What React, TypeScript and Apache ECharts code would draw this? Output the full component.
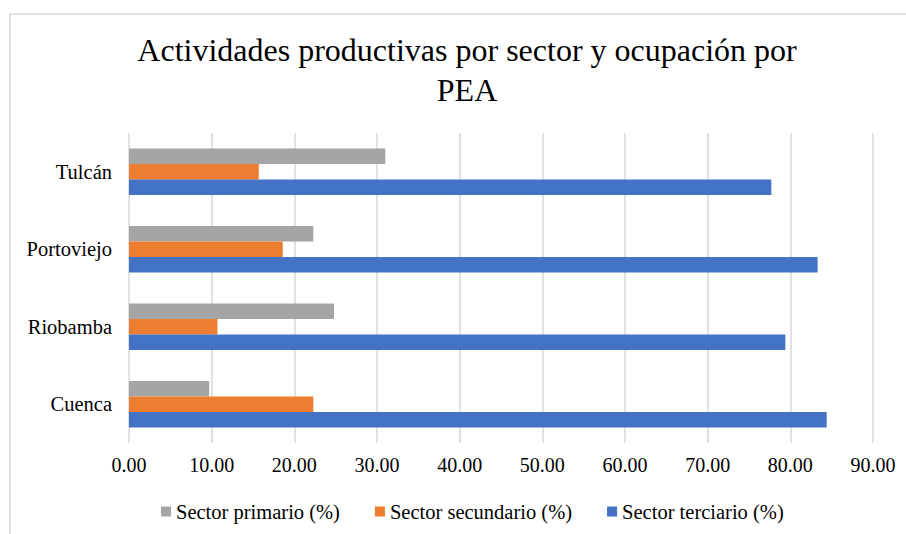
import React, { useEffect, useRef } from "react";
import * as echarts from "echarts";

const categories = ["Cuenca", "Riobamba", "Portoviejo", "Tulcán"];
const primario = [9.7, 24.8, 22.3, 31.0];
const secundario = [22.3, 10.7, 18.6, 15.7];
const terciario = [84.4, 79.4, 83.3, 77.7];
const seriesNames = ["Sector primario (%)", "Sector secundario (%)", "Sector terciario (%)"];
const titleText = "Actividades productivas por sector y ocupación por\nPEA";

const FONT = "Liberation Serif";

export default function App() {
  const ref = useRef<HTMLDivElement>(null);
  useEffect(() => {
    if (!ref.current) return;
    const chart = echarts.init(ref.current, undefined, { renderer: "svg" });
    chart.setOption({
      animation: false,
      backgroundColor: "#ffffff",
      textStyle: { fontFamily: FONT },
      graphic: [
        {
          type: "rect",
          shape: { x: 10, y: 14, width: 940, height: 560 },
          style: { fill: "none", stroke: "#d9d9d9", lineWidth: 1.5 },
          silent: true,
        },
        {
          type: "text",
          x: 467,
          y: 30,
          style: {
            text: titleText,
            fontFamily: FONT,
            fontSize: 32,
            lineHeight: 40,
            fill: "#000000",
            textAlign: "center",
            textVerticalAlign: "top",
          },
        },
      ],
      legend: {
        data: seriesNames,
        left: 161,
        top: 501,
        padding: 0,
        itemWidth: 10,
        itemHeight: 10,
        itemGap: 35,
        icon: "rect",
        textStyle: { fontFamily: FONT, fontSize: 20.5, color: "#000000" },
      },
      grid: { left: 129, right: 33, top: 133, bottom: 91, containLabel: false },
      xAxis: {
        type: "value",
        min: 0,
        max: 90,
        interval: 10,
        axisLine: { show: false },
        axisTick: { show: false },
        splitLine: { show: true, lineStyle: { color: "#d9d9d9", width: 1.5 } },
        axisLabel: {
          fontFamily: FONT,
          fontSize: 20,
          color: "#000000",
          margin: 12,
          formatter: (v: number) => v.toFixed(2),
        },
      },
      yAxis: {
        type: "category",
        data: categories,
        axisLine: { show: false },
        axisTick: { show: false },
        axisLabel: { fontFamily: FONT, fontSize: 20.5, color: "#000000", margin: 17 },
      },
      series: [
        { name: seriesNames[0], type: "bar", data: primario, barWidth: 15.5, barGap: "0%", itemStyle: { color: "#A5A5A5" } },
        { name: seriesNames[1], type: "bar", data: secundario, barWidth: 15.5, barGap: "0%", itemStyle: { color: "#ED7D31" } },
        { name: seriesNames[2], type: "bar", data: terciario, barWidth: 15.5, barGap: "0%", itemStyle: { color: "#4472C4" } },
      ],
    });
    return () => chart.dispose();
  }, []);
  return (
    <div
      ref={ref}
      style={{ position: "fixed", left: 0, top: 0, width: 906, height: 534 }}
    />
  );
}
